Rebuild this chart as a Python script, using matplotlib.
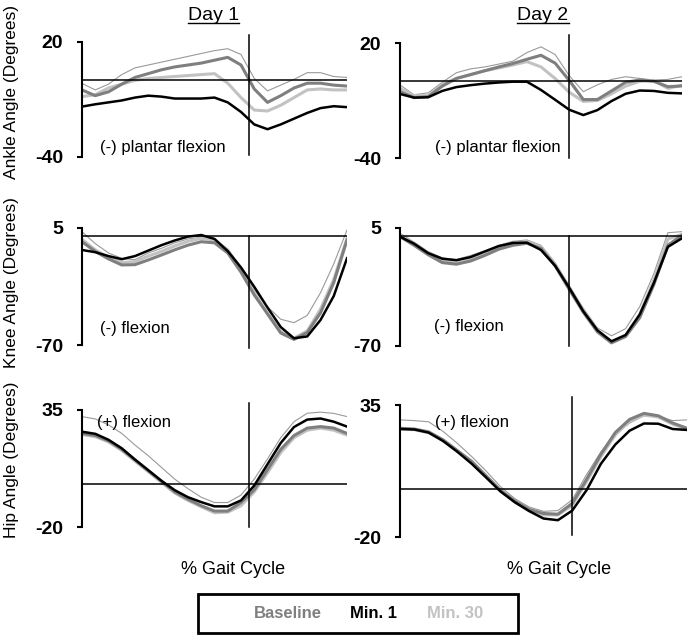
import matplotlib
matplotlib.use("Agg")
import matplotlib.pyplot as plt
from matplotlib.lines import Line2D
from matplotlib.patches import Rectangle

plt.rcParams["font.family"] = ["Liberation Sans", "DejaVu Sans"]
plt.rcParams["axes.unicode_minus"] = False

W, H = 694, 637

# % of gait cycle
gait_pct = [0, 5, 10, 15, 20, 25, 30, 35, 40, 45, 50, 55, 60, 65, 70, 75, 80, 85, 90, 95, 100]

# ankle angle (deg), day 1
ankle_d1_base = [-5, -8, -6, -2, 1.5, 3.5, 5.5, 7, 8, 9, 10.5, 12, 8, -4.5, -11.5, -8, -4, -1.5, -1.5, -2.5, -3]
ankle_d1_min1 = [-13.7, -12.5, -11.5, -10.5, -9, -8, -8.5, -9.5, -9.5, -9.5, -9, -11.5, -16.5, -23, -25.5, -23, -20, -17, -14.5, -13.5, -14]
ankle_d1_min30 = [-8.5, -7.5, -4, -2, 0, 1, 1.5, 2, 2.5, 3, 3.5, -1.5, -9, -15.5, -16, -13, -9, -5, -4.5, -5, -5]
ankle_d1_thin = [-1.6, -5, -2, 3, 6.5, 8, 9.5, 11, 12.5, 14, 15.5, 16.5, 13.5, 1, -5.5, -2.5, 0.5, 4, 4, 2, 1.5]

# ankle angle (deg), day 2
ankle_d2_base = [-5.4, -8.5, -8, -2.5, 1.5, 3.5, 5.5, 7.5, 9.3, 11.5, 13.6, 9.5, 0.5, -9.5, -9.5, -5, -0.5, 0.7, 0, -2.8, -2.4]
ankle_d2_min1 = [-6.6, -8.5, -8.3, -5, -3, -2, -1.2, -0.6, -0.2, -0.2, -4.5, -9.6, -14.8, -17.6, -15, -10.3, -6.5, -4.8, -5, -6, -6.3]
ankle_d2_min30 = [-3.7, -7.5, -7.5, -1.5, 1.5, 3.5, 5.5, 7, 8.5, 10.3, 7.5, 1.5, -5.7, -10.5, -10, -6.5, -2.5, 0, 0.5, -3.7, -2]
ankle_d2_thin = [-1.9, -7, -6, -0.5, 4.5, 6.5, 7.5, 9, 10.5, 15, 18, 14, 3, -5.4, -1.8, 1, 2.4, 1.5, 0.7, 1, 2.4]

# knee angle (deg), day 1
knee_d1_base = [-3.8, -10, -14.8, -18.7, -18.5, -15.5, -12.3, -9, -6, -3.8, -4.5, -11, -23.3, -37.9, -50, -62.3, -66.4, -62, -49.4, -30, -2.7]
knee_d1_min1 = [-9.1, -10.5, -13, -15, -13, -9.5, -6, -3, -0.5, 0.5, -2, -9.8, -20.3, -32.7, -46, -58.5, -65.7, -64.5, -54, -38.6, -14.4]
knee_d1_min30 = [-2.3, -9, -14, -17.2, -16.5, -13, -10, -6.5, -3.5, -1.6, -2.7, -9, -21.5, -36.5, -50, -61.5, -65.7, -61, -47, -28, -1.6]
knee_d1_thin = [2.6, -5, -11, -14.5, -15.3, -11, -8, -4.5, -2, -1, -2.7, -8.5, -21, -34.5, -45.5, -53.5, -55.7, -51, -36.5, -18, 3.7]

# knee angle (deg), day 2
knee_d2_base = [-0.5, -6, -12, -17, -18, -16, -12.5, -8.5, -6, -4.7, -8, -19, -34, -48.5, -61, -68, -64, -52, -31, -6, 0.5]
knee_d2_min1 = [-0.5, -5, -11, -14.5, -15.5, -13.5, -10, -6.5, -4.5, -4.3, -9, -19, -33, -48, -60, -67, -63, -50, -30, -7, -1.5]
knee_d2_min30 = [0, -5.5, -11.5, -16, -17.5, -15, -11.5, -7.5, -5, -3.7, -7, -18, -33.5, -48, -60.5, -67.5, -63.5, -50, -28, -2, 1]
knee_d2_thin = [1.6, -4, -10, -14, -15, -12.5, -9.5, -6, -3.5, -2.6, -6, -17, -31.5, -46, -58.5, -63.5, -59, -45, -24, 2, 2.7]

# hip angle (deg), day 1
hip_d1_base = [24, 23, 20.5, 16.5, 11.5, 6.5, 1.5, -3.5, -7, -10, -12.5, -12.5, -8.5, -2.5, 7, 16.5, 23, 26.5, 27.2, 26.5, 24]
hip_d1_min1 = [24.8, 23.8, 21, 17, 11.7, 6.7, 1.7, -2.7, -6, -8.3, -10.3, -10.3, -7.5, -0.5, 9.5, 19.5, 27, 30.5, 31, 29.5, 27.2]
hip_d1_min30 = [23.5, 22.5, 20, 16, 11, 6, 1, -4, -7.5, -10.5, -13.3, -13, -10, -3.5, 5.5, 15, 22, 25.5, 26.5, 25.5, 23.2]
hip_d1_thin = [31.9, 30.8, 28, 24, 18.5, 13.5, 8, 2.5, -2, -6, -8.5, -8.5, -5, 2.5, 12, 22, 29.5, 33.5, 34, 33.4, 31.9]

# hip angle (deg), day 2
hip_d2_base = [25.3, 25, 23.8, 20.5, 16, 11.5, 5.5, -0.5, -5, -8.5, -10.2, -10.5, -6, 4, 14.5, 23.5, 29, 31.5, 30.5, 27.5, 25.3]
hip_d2_min1 = [25, 24.8, 23.5, 20, 15.5, 10.5, 4.8, -1, -5.5, -9.2, -12.3, -13, -9, -0.5, 10.5, 18.5, 24.3, 27.3, 27.2, 25, 24.6]
hip_d2_min30 = [25, 24.7, 23.4, 20.2, 15.8, 11, 5.2, -0.8, -5.5, -9, -10.8, -10.8, -6.8, 3, 13.5, 22.5, 28.3, 30.8, 30, 27, 25]
hip_d2_thin = [28.8, 28.5, 28, 24, 19, 13.5, 7.5, 1, -4, -7.5, -9.3, -9, -4.5, 6, 15.5, 22.8, 27.5, 30.5, 30.3, 28.5, 28.8]

legend_labels = ["Baseline", "Min. 1", "Min. 30"]
BASE_C, MIN1_C, MIN30_C, THIN_C = "#7f7f7f", "#000000", "#c2c2c2", "#9a9a9a"


def px_rect(left, top, right, bottom):
    return [left / W, 1 - bottom / H, (right - left) / W, (bottom - top) / H]


def px(x, y):
    return x / W, 1 - y / H


PANELS = [
    dict(box=(82, 42, 347, 157), ylim=(-40, 20), toe=63, vspan=(-39, 23.7),
         data=(ankle_d1_thin, ankle_d1_min30, ankle_d1_base, ankle_d1_min1),
         note="(-) plantar flexion", note_xy=(100, 147)),
    dict(box=(400, 43, 682, 158), ylim=(-40, 20), toe=60, vspan=(-40, 24.2),
         data=(ankle_d2_thin, ankle_d2_min30, ankle_d2_base, ankle_d2_min1),
         note="(-) plantar flexion", note_xy=(435, 147)),
    dict(box=(82, 228, 347, 345), ylim=(-70, 5), toe=63, vspan=(-72, 0),
         data=(knee_d1_thin, knee_d1_min30, knee_d1_base, knee_d1_min1),
         note="(-) flexion", note_xy=(100, 328)),
    dict(box=(400, 228, 682, 346), ylim=(-70, 5), toe=60, vspan=(-70, 0),
         data=(knee_d2_thin, knee_d2_min30, knee_d2_base, knee_d2_min1),
         note="(-) flexion", note_xy=(434, 326)),
    dict(box=(82, 410, 347, 527), ylim=(-20, 35), toe=63, vspan=(-20, 38.3),
         data=(hip_d1_thin, hip_d1_min30, hip_d1_base, hip_d1_min1),
         note="(+) flexion", note_xy=(97, 423)),
    dict(box=(400, 405, 687, 537), ylim=(-20, 35), toe=60, vspan=(-19.2, 38.3),
         data=(hip_d2_thin, hip_d2_min30, hip_d2_base, hip_d2_min1),
         note="(+) flexion", note_xy=(435, 423)),
]

fig = plt.figure(figsize=(W / 100, H / 100), dpi=100)

for p in PANELS:
    ax = fig.add_axes(px_rect(*p["box"]))
    thin, m30, base, m1 = p["data"]
    ax.plot(gait_pct, thin, color=THIN_C, lw=0.8)
    ax.plot(gait_pct, m30, color=MIN30_C, lw=2.2, solid_joinstyle="round")
    ax.plot(gait_pct, base, color=BASE_C, lw=2.2, solid_joinstyle="round")
    ax.plot(gait_pct, m1, color=MIN1_C, lw=1.8, solid_joinstyle="round")
    ax.axhline(0, color="black", lw=1.1)
    ax.plot([p["toe"], p["toe"]], p["vspan"], color="black", lw=1.1, clip_on=False)
    lo, hi = p["ylim"]
    ax.set_xlim(0, 100)
    ax.set_ylim(lo, hi)
    ax.set_xticks([])
    ax.set_yticks([lo, hi], labels=[str(lo), str(hi)], fontsize=14, fontweight="bold")
    ax.tick_params(axis="y", direction="out", length=3.6, width=1.5, pad=10)
    for side in ("top", "right", "bottom"):
        ax.spines[side].set_visible(False)
    ax.spines["left"].set_linewidth(1.5)
    ax.patch.set_alpha(0)
    fig.text(*px(*p["note_xy"]), p["note"], fontsize=12, ha="left", va="center")

# row labels
for label, yc in [("Ankle Angle (Degrees)", 92), ("Knee Angle (Degrees)", 283),
                  ("Hip Angle (Degrees)", 460)]:
    fig.text(*px(12, yc), label, rotation=90, fontsize=12.5, ha="center", va="center")

# column titles, underlined
titles = []
for label, xc in [("Day 1", 213.5), ("Day 2", 543)]:
    titles.append(fig.text(*px(xc, 15.5), label, fontsize=14, ha="center", va="center"))
for label, xc in [("% Gait Cycle", 233), ("% Gait Cycle", 559)]:
    fig.text(*px(xc, 570), label, fontsize=13, ha="center", va="center")

fig.canvas.draw()
renderer = fig.canvas.get_renderer()
for t in titles:
    bb = t.get_window_extent(renderer).transformed(fig.transFigure.inverted())
    fig.add_artist(Line2D([bb.x0, bb.x1], [bb.y0 + 1 / H, bb.y0 + 1 / H],
                          color="black", lw=1.0, transform=fig.transFigure))

# legend box
x0, y0 = px(198, 633)
fig.add_artist(Rectangle((x0, y0), 320 / W, 39 / H, transform=fig.transFigure,
                         fill=False, edgecolor="black", lw=2))
for label, col, xc in zip(legend_labels, [BASE_C, MIN1_C, MIN30_C], [287.5, 373.5, 455]):
    fig.text(*px(xc, 614), label, color=col, fontsize=12, fontweight="bold",
             ha="center", va="center")

fig.savefig("out.png", dpi=100)
